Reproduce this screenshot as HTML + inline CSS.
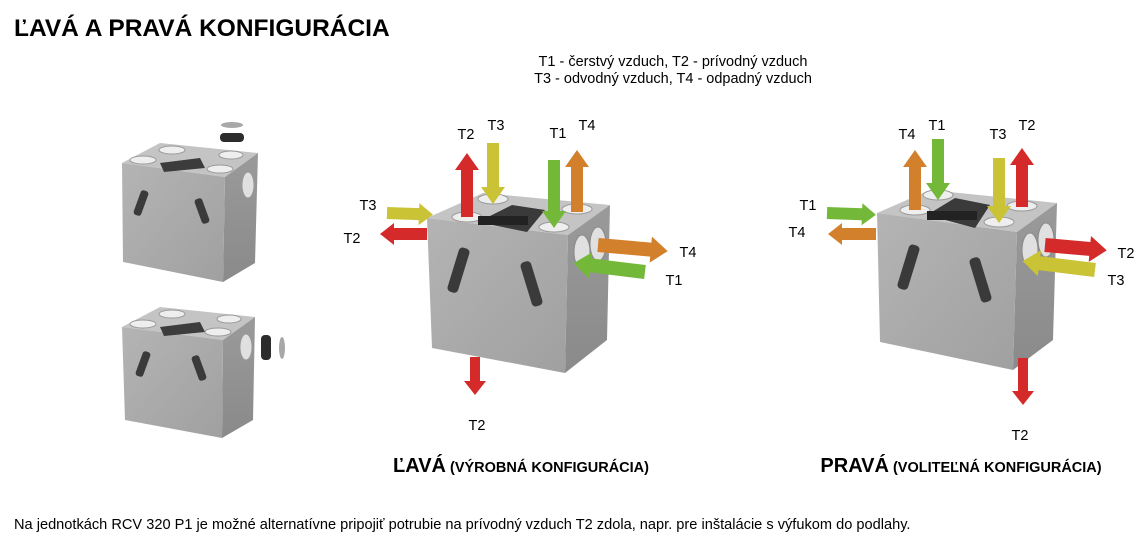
<!DOCTYPE html>
<html><head><meta charset="utf-8"><style>
html,body{margin:0;padding:0;background:#fff;}
body{width:1142px;height:536px;overflow:hidden;position:relative;font-family:"Liberation Sans",Arial,sans-serif;}
svg{position:absolute;left:0;top:0;}
</style></head><body>
<svg width="1142" height="536" viewBox="0 0 1142 536" xmlns="http://www.w3.org/2000/svg" font-family="Liberation Sans, Arial, sans-serif">
<defs>
<linearGradient id="fr" x1="0" y1="0" x2="1" y2="1"><stop offset="0" stop-color="#b4b4b4"/><stop offset="1" stop-color="#a0a0a0"/></linearGradient>
<linearGradient id="sd" x1="0" y1="0" x2="0" y2="1"><stop offset="0" stop-color="#9a9a9a"/><stop offset="1" stop-color="#8a8a8a"/></linearGradient>
</defs>
<text x="14" y="36" font-size="24.5" font-weight="bold" fill="#000">ĽAVÁ A PRAVÁ KONFIGURÁCIA</text>
<text x="673" y="66" font-size="14.5" text-anchor="middle">T1 - čerstvý vzduch, T2 - prívodný vzduch</text>
<text x="673" y="83" font-size="14.5" text-anchor="middle">T3 - odvodný vzduch, T4 - odpadný vzduch</text>

<!-- left top cube -->
<polygon points="122,163 160,143 258,153 225,177" fill="#c4c4c4"/>
<polygon points="225,177 258,153 255,263 223,282" fill="url(#sd)"/>
<polygon points="122,163 225,177 223,282 123,262" fill="url(#fr)"/>
<ellipse cx="143" cy="160" rx="13" ry="4" fill="#eee" stroke="#999"/>
<ellipse cx="172" cy="150" rx="13" ry="4" fill="#eee" stroke="#999"/>
<ellipse cx="220" cy="169" rx="13" ry="4" fill="#eee" stroke="#999"/>
<ellipse cx="231" cy="155" rx="12" ry="4" fill="#eee" stroke="#999"/>
<polygon points="160,163 200,158 205,168 164,172" fill="#3c3c3c"/>
<ellipse cx="248" cy="185" rx="6" ry="13" fill="#e0e0e0" stroke="#999"/>
<rect x="-4" y="-13" width="8" height="26" rx="3" fill="#3a3a3a" transform="translate(141,203) rotate(20)"/>
<rect x="-4" y="-13" width="8" height="26" rx="3" fill="#3a3a3a" transform="translate(202,211) rotate(-20)"/>
<ellipse cx="232" cy="125" rx="11" ry="3" fill="#a8a8a8"/>
<rect x="220" y="133" width="24" height="9" rx="4" fill="#2c2c2c"/>
<!-- left bottom cube -->
<polygon points="122,327 160,307 255,317 223,340" fill="#c4c4c4"/>
<polygon points="223,340 255,317 253,420 222,438" fill="url(#sd)"/>
<polygon points="122,327 223,340 222,438 125,420" fill="url(#fr)"/>
<ellipse cx="143" cy="324" rx="13" ry="4" fill="#eee" stroke="#999"/>
<ellipse cx="172" cy="314" rx="13" ry="4" fill="#eee" stroke="#999"/>
<ellipse cx="218" cy="332" rx="13" ry="4" fill="#eee" stroke="#999"/>
<ellipse cx="229" cy="319" rx="12" ry="4" fill="#eee" stroke="#999"/>
<polygon points="160,327 200,322 205,332 164,336" fill="#3c3c3c"/>
<ellipse cx="246" cy="347" rx="6" ry="13" fill="#e0e0e0" stroke="#999"/>
<rect x="-4" y="-13" width="8" height="26" rx="3" fill="#3a3a3a" transform="translate(143,364) rotate(20)"/>
<rect x="-4" y="-13" width="8" height="26" rx="3" fill="#3a3a3a" transform="translate(199,368) rotate(-20)"/>
<rect x="261" y="335" width="10" height="25" rx="4" fill="#2c2c2c"/>
<ellipse cx="282" cy="348" rx="3" ry="11" fill="#a8a8a8"/>

<!-- middle cube -->
<polygon points="427,218 483,193 610,205 568,235" fill="#c4c4c4"/>
<polygon points="568,235 610,205 607,340 565,373" fill="url(#sd)"/>
<polygon points="427,218 568,235 565,373 432,348" fill="url(#fr)"/>
<ellipse cx="467" cy="217" rx="15" ry="5" fill="#eee" stroke="#999"/>
<ellipse cx="493" cy="199" rx="15" ry="5" fill="#eee" stroke="#999"/>
<ellipse cx="554" cy="227" rx="15" ry="5" fill="#eee" stroke="#999"/>
<ellipse cx="577" cy="209" rx="15" ry="5" fill="#eee" stroke="#999"/>
<polygon points="478,222 512,205 545,210 527,232" fill="#3a3a3a"/>
<rect x="478" y="216" width="50" height="9" fill="#222"/>
<ellipse cx="582" cy="252" rx="8" ry="17" fill="#e0e0e0" stroke="#888"/>
<ellipse cx="598" cy="244" rx="8" ry="17" fill="#e0e0e0" stroke="#888"/>
<rect x="-5" y="-23" width="11" height="46" rx="4" fill="#3a3a3a" transform="translate(458,270) rotate(17)"/>
<rect x="-5" y="-23" width="11" height="46" rx="4" fill="#3a3a3a" transform="translate(531,284) rotate(-17)"/>

<!-- right cube -->
<polygon points="877,213 930,190 1057,203 1017,232" fill="#c4c4c4"/>
<polygon points="1017,232 1057,203 1053,340 1013,370" fill="url(#sd)"/>
<polygon points="877,213 1017,232 1013,370 880,342" fill="url(#fr)"/>
<ellipse cx="915" cy="210" rx="15" ry="5" fill="#eee" stroke="#999"/>
<ellipse cx="938" cy="195" rx="15" ry="5" fill="#eee" stroke="#999"/>
<ellipse cx="999" cy="222" rx="15" ry="5" fill="#eee" stroke="#999"/>
<ellipse cx="1022" cy="206" rx="15" ry="5" fill="#eee" stroke="#999"/>
<polygon points="927,215 955,198 990,205 975,228" fill="#3a3a3a"/>
<rect x="927" y="211" width="50" height="9" fill="#222"/>
<ellipse cx="1030" cy="250" rx="8" ry="17" fill="#e0e0e0" stroke="#888"/>
<ellipse cx="1046" cy="240" rx="8" ry="17" fill="#e0e0e0" stroke="#888"/>
<rect x="-5" y="-23" width="11" height="46" rx="4" fill="#3a3a3a" transform="translate(908,267) rotate(17)"/>
<rect x="-5" y="-23" width="11" height="46" rx="4" fill="#3a3a3a" transform="translate(980,280) rotate(-17)"/>

<g>
<path transform="translate(467,217) rotate(-90)" d="M0,-6 L47,-6 L47,-12 L64,0 L47,12 L47,6 L0,6Z" fill="#d42a2a"/>
<path transform="translate(493,143) rotate(90)" d="M0,-6 L44,-6 L44,-12 L61,0 L44,12 L44,6 L0,6Z" fill="#c9c335"/>
<path transform="translate(554,160) rotate(90)" d="M0,-6 L51,-6 L51,-12 L68,0 L51,12 L51,6 L0,6Z" fill="#74b83a"/>
<path transform="translate(577,212) rotate(-90)" d="M0,-6 L45,-6 L45,-12 L62,0 L45,12 L45,6 L0,6Z" fill="#d2802c"/>
<path transform="translate(387,213) rotate(2)" d="M0,-6 L32,-6 L32,-11 L46,0 L32,11 L32,6 L0,6Z" fill="#c9c335"/>
<path transform="translate(427,234) rotate(180)" d="M0,-6 L33,-6 L33,-11 L47,0 L33,11 L33,6 L0,6Z" fill="#d42a2a"/>
<path transform="translate(598,245) rotate(5)" d="M0,-7 L53,-7 L53,-13 L70,0 L53,13 L53,7 L0,7Z" fill="#d2802c"/>
<path transform="translate(645,272) rotate(187)" d="M0,-7 L55,-7 L55,-13 L72,0 L55,13 L55,7 L0,7Z" fill="#74b83a"/>
<path transform="translate(475,357) rotate(90)" d="M0,-5 L24,-5 L24,-11 L38,0 L24,11 L24,5 L0,5Z" fill="#d42a2a"/>

<path transform="translate(915,210) rotate(-90)" d="M0,-6 L43,-6 L43,-12 L60,0 L43,12 L43,6 L0,6Z" fill="#d2802c"/>
<path transform="translate(938,139) rotate(90)" d="M0,-6 L44,-6 L44,-12 L61,0 L44,12 L44,6 L0,6Z" fill="#74b83a"/>
<path transform="translate(999,158) rotate(90)" d="M0,-6 L48,-6 L48,-12 L65,0 L48,12 L48,6 L0,6Z" fill="#c9c335"/>
<path transform="translate(1022,207) rotate(-90)" d="M0,-6 L42,-6 L42,-12 L59,0 L42,12 L42,6 L0,6Z" fill="#d42a2a"/>
<path transform="translate(827,213) rotate(2)" d="M0,-6 L35,-6 L35,-11 L49,0 L35,11 L35,6 L0,6Z" fill="#74b83a"/>
<path transform="translate(876,234) rotate(180)" d="M0,-6 L34,-6 L34,-11 L48,0 L34,11 L34,6 L0,6Z" fill="#d2802c"/>
<path transform="translate(1045,245) rotate(5)" d="M0,-7 L45,-7 L45,-13 L62,0 L45,13 L45,7 L0,7Z" fill="#d42a2a"/>
<path transform="translate(1095,270) rotate(187)" d="M0,-7 L56,-7 L56,-13 L73,0 L56,13 L56,7 L0,7Z" fill="#c9c335"/>
<path transform="translate(1023,358) rotate(90)" d="M0,-5 L33,-5 L33,-11 L47,0 L33,11 L33,5 L0,5Z" fill="#d42a2a"/>
</g>

<g font-size="14.5" fill="#000" text-anchor="middle">
<text x="466" y="139">T2</text><text x="496" y="130">T3</text><text x="558" y="138">T1</text><text x="587" y="130">T4</text>
<text x="368" y="210">T3</text><text x="352" y="243">T2</text><text x="688" y="257">T4</text><text x="674" y="285">T1</text>
<text x="477" y="430">T2</text>
<text x="907" y="139">T4</text><text x="937" y="130">T1</text><text x="998" y="139">T3</text><text x="1027" y="130">T2</text>
<text x="808" y="210">T1</text><text x="797" y="237">T4</text><text x="1126" y="258">T2</text><text x="1116" y="285">T3</text>
<text x="1020" y="440">T2</text>
</g>

<text x="521" y="472" text-anchor="middle" font-weight="bold"><tspan font-size="20">ĽAVÁ</tspan><tspan font-size="14.5"> (VÝROBNÁ KONFIGURÁCIA)</tspan></text>
<text x="961" y="472" text-anchor="middle" font-weight="bold"><tspan font-size="20">PRAVÁ</tspan><tspan font-size="14.5"> (VOLITEĽNÁ KONFIGURÁCIA)</tspan></text>
<text x="14" y="529" font-size="14.6">Na jednotkách RCV 320 P1 je možné alternatívne pripojiť potrubie na prívodný vzduch T2 zdola, napr.  pre inštalácie s výfukom do podlahy.</text>
</svg>
</body></html>
